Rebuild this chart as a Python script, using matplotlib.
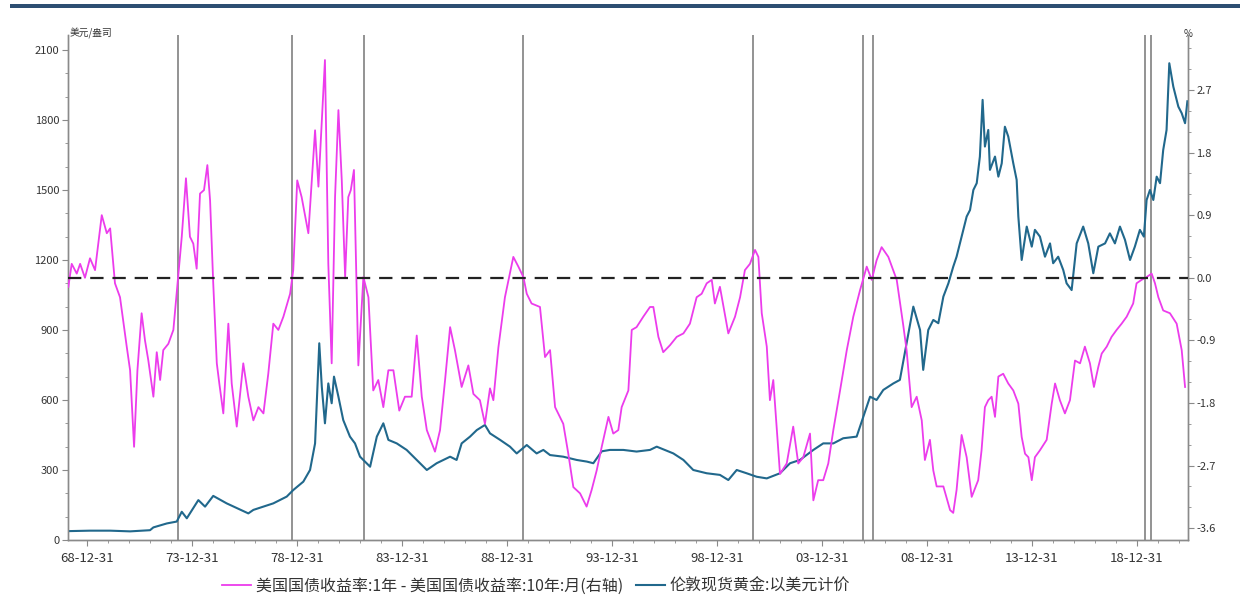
import matplotlib
matplotlib.use('Agg')
import matplotlib.pyplot as plt
import matplotlib.dates as mdates
from matplotlib.lines import Line2D
from matplotlib.patches import Rectangle
from matplotlib.ticker import MultipleLocator, FixedLocator, FormatStrFormatter
from datetime import datetime, timedelta

plt.rcParams['font.family'] = ['Noto Sans CJK SC', 'DejaVu Sans']
plt.rcParams['axes.unicode_minus'] = False

# ---------------- data (decimal years) ----------------
GOLD_T = [1968.10, 1969.14, 1970.10, 1971.05, 1972.00, 1972.16, 1972.80, 1973.27, 1973.51, 1973.75,
          1974.30, 1974.62, 1975.01, 1975.65, 1976.68, 1976.92, 1977.87, 1978.51, 1978.82, 1979.30,
          1979.62, 1979.86, 1980.06, 1980.18, 1980.33, 1980.49, 1980.65, 1980.76, 1980.97, 1981.20,
          1981.52, 1981.76, 1982.00, 1982.48, 1982.80, 1983.11, 1983.35, 1983.75, 1984.22, 1984.70,
          1985.18, 1985.65, 1986.29, 1986.60, 1986.84, 1987.24, 1987.56, 1987.95, 1988.19, 1988.67,
          1989.14, 1989.46, 1989.94, 1990.41, 1990.73, 1991.05, 1991.68, 1992.32, 1992.80, 1993.11,
          1993.51, 1993.90, 1994.54, 1995.17, 1995.81, 1996.13, 1996.92, 1997.40, 1997.87, 1998.51,
          1999.14, 1999.54, 1999.94, 2000.41, 2000.89, 2001.37, 2002.00, 2002.48, 2002.95, 2003.59,
          2004.06, 2004.54, 2005.01, 2005.65, 2005.97, 2006.29, 2006.60, 2006.92, 2007.40, 2007.71,
          2008.03, 2008.35, 2008.67, 2008.82, 2009.06, 2009.30, 2009.54, 2009.78, 2010.02, 2010.25,
          2010.41, 2010.57, 2010.89, 2011.05, 2011.21, 2011.37, 2011.52, 2011.65, 2011.76, 2011.92,
          2012.00, 2012.24, 2012.40, 2012.56, 2012.71, 2012.87, 2013.11, 2013.27, 2013.35, 2013.51,
          2013.75, 2013.99, 2014.14, 2014.38, 2014.62, 2014.86, 2015.01, 2015.25, 2015.49, 2015.65,
          2015.89, 2016.13, 2016.44, 2016.68, 2016.92, 2017.16, 2017.48, 2017.71, 2017.95, 2018.19,
          2018.43, 2018.67, 2018.90, 2019.14, 2019.33, 2019.46, 2019.62, 2019.78, 2019.94, 2020.10,
          2020.25, 2020.41, 2020.54, 2020.73, 2020.97, 2021.13, 2021.29, 2021.40]
GOLD_V = [38, 40, 40, 37, 42, 54, 71, 79, 121, 93,
          171, 143, 189, 157, 114, 129, 157, 186, 214, 250,
          300, 414, 843, 657, 500, 671, 586, 700, 614, 514,
          443, 414, 357, 314, 443, 500, 429, 414, 386, 343,
          300, 329, 357, 343, 414, 443, 471, 493, 457, 429,
          400, 371, 407, 371, 386, 364, 357, 343, 336, 329,
          380, 386, 386, 379, 386, 400, 371, 343, 300, 286,
          279, 257, 300, 286, 271, 264, 286, 329, 343, 386,
          414, 414, 436, 443, 529, 614, 600, 643, 671, 686,
          843, 1000, 900, 729, 900, 943, 929, 1043, 1100, 1171,
          1214, 1271, 1386, 1414, 1500, 1529, 1643, 1886, 1686, 1757,
          1586, 1643, 1557, 1614, 1771, 1729, 1614, 1543, 1386, 1200,
          1343, 1257, 1329, 1300, 1214, 1271, 1186, 1214, 1157, 1100,
          1071, 1271, 1343, 1271, 1143, 1257, 1271, 1314, 1271, 1343,
          1286, 1200, 1257, 1329, 1300, 1457, 1500, 1457, 1557, 1529,
          1671, 1757, 2043, 1943, 1857, 1829, 1786, 1880]

SPREAD_T = [1968.11, 1968.27, 1968.51, 1968.67, 1968.90, 1969.14, 1969.38, 1969.70, 1969.94, 1970.10,
            1970.33, 1970.57, 1970.89, 1971.05, 1971.24, 1971.40, 1971.60, 1971.76, 1971.92, 1972.16,
            1972.32, 1972.48, 1972.63, 1972.87, 1973.11, 1973.35, 1973.51, 1973.71, 1973.90, 1974.06,
            1974.22, 1974.38, 1974.57, 1974.73, 1974.86, 1975.01, 1975.18, 1975.30, 1975.49, 1975.73,
            1975.89, 1976.13, 1976.44, 1976.68, 1976.92, 1977.16, 1977.40, 1977.63, 1977.87, 1978.11,
            1978.35, 1978.67, 1978.82, 1979.01, 1979.22, 1979.54, 1979.86, 1980.02, 1980.33, 1980.49,
            1980.65, 1980.81, 1980.97, 1981.13, 1981.29, 1981.44, 1981.56, 1981.71, 1981.92, 1982.16,
            1982.40, 1982.48, 1982.63, 1982.87, 1983.11, 1983.35, 1983.59, 1983.87, 1984.14, 1984.46,
            1984.70, 1984.94, 1985.18, 1985.57, 1985.81, 1986.05, 1986.29, 1986.52, 1986.84, 1987.16,
            1987.40, 1987.71, 1987.95, 1988.19, 1988.35, 1988.59, 1988.90, 1989.30, 1989.54, 1989.78,
            1989.94, 1990.17, 1990.57, 1990.81, 1991.05, 1991.29, 1991.68, 1991.92, 1992.16, 1992.48,
            1992.79, 1993.03, 1993.27, 1993.51, 1993.83, 1994.06, 1994.30, 1994.46, 1994.78, 1994.94,
            1995.17, 1995.49, 1995.81, 1995.97, 1996.21, 1996.44, 1996.76, 1997.08, 1997.40, 1997.71,
            1998.03, 1998.27, 1998.51, 1998.75, 1998.90, 1999.14, 1999.54, 1999.86, 2000.10, 2000.33,
            2000.57, 2000.81, 2000.97, 2001.13, 2001.37, 2001.52, 2001.68, 2002.00, 2002.32, 2002.63,
            2002.87, 2003.11, 2003.43, 2003.59, 2003.82, 2004.06, 2004.30, 2004.54, 2004.86, 2005.18,
            2005.49, 2005.81, 2006.13, 2006.37, 2006.60, 2006.84, 2007.16, 2007.56, 2007.87, 2008.03,
            2008.27, 2008.51, 2008.75, 2008.90, 2009.14, 2009.30, 2009.46, 2009.78, 2010.10, 2010.25,
            2010.41, 2010.65, 2010.89, 2011.13, 2011.44, 2011.60, 2011.76, 2011.92, 2012.08, 2012.24,
            2012.40, 2012.63, 2012.87, 2013.11, 2013.35, 2013.51, 2013.67, 2013.83, 2013.99, 2014.14,
            2014.38, 2014.70, 2014.94, 2015.10, 2015.33, 2015.57, 2015.81, 2016.05, 2016.29, 2016.52,
            2016.76, 2016.95, 2017.16, 2017.32, 2017.56, 2017.79, 2018.03, 2018.27, 2018.51, 2018.82,
            2018.98, 2019.22, 2019.46, 2019.70, 2019.86, 2020.02, 2020.25, 2020.57, 2020.89, 2021.13,
            2021.29]
SPREAD_V = [-0.13, 0.20, 0.06, 0.20, 0.00, 0.28, 0.11, 0.90, 0.64, 0.71,
            -0.08, -0.28, -0.99, -1.33, -2.43, -1.33, -0.51, -0.90, -1.19, -1.71,
            -1.07, -1.47, -1.04, -0.95, -0.75, 0.06, 0.59, 1.43, 0.59, 0.49,
            0.13, 1.21, 1.26, 1.62, 1.11, -0.08, -1.23, -1.52, -1.95, -0.66,
            -1.52, -2.14, -1.23, -1.71, -2.05, -1.86, -1.95, -1.38, -0.66, -0.75,
            -0.56, -0.23, 0.11, 1.40, 1.16, 0.64, 2.12, 1.31, 3.13, 0.20,
            -1.23, 1.16, 2.41, 1.40, 0.01, 1.16, 1.26, 1.55, -1.26, 0.01,
            -0.28, -0.75, -1.62, -1.47, -1.86, -1.33, -1.33, -1.91, -1.71, -1.71,
            -0.83, -1.71, -2.19, -2.50, -2.19, -1.47, -0.71, -1.04, -1.57, -1.26,
            -1.67, -1.76, -2.10, -1.59, -1.76, -1.00, -0.28, 0.30, 0.16, 0.01,
            -0.23, -0.37, -0.42, -1.14, -1.04, -1.86, -2.10, -2.53, -3.01, -3.10,
            -3.29, -3.05, -2.77, -2.43, -2.00, -2.24, -2.19, -1.86, -1.62, -0.75,
            -0.71, -0.56, -0.42, -0.42, -0.85, -1.07, -0.97, -0.85, -0.80, -0.66,
            -0.28, -0.23, -0.08, -0.03, -0.37, -0.13, -0.80, -0.56, -0.28, 0.11,
            0.20, 0.40, 0.30, -0.51, -0.99, -1.76, -1.47, -2.82, -2.67, -2.14,
            -2.67, -2.58, -2.24, -3.20, -2.91, -2.91, -2.67, -2.19, -1.62, -1.04,
            -0.56, -0.18, 0.16, -0.03, 0.25, 0.44, 0.30, -0.03, -0.68, -1.04,
            -1.86, -1.71, -2.05, -2.62, -2.33, -2.77, -3.00, -3.00, -3.34, -3.38,
            -3.05, -2.26, -2.58, -3.15, -2.91, -2.48, -1.86, -1.76, -1.71, -2.00,
            -1.42, -1.38, -1.52, -1.62, -1.81, -2.29, -2.53, -2.58, -2.91, -2.58,
            -2.48, -2.33, -1.81, -1.52, -1.76, -1.95, -1.76, -1.19, -1.23, -0.99,
            -1.23, -1.57, -1.28, -1.09, -0.99, -0.85, -0.75, -0.66, -0.56, -0.37,
            -0.08, -0.03, 0.01, 0.06, -0.08, -0.28, -0.47, -0.51, -0.66, -1.04,
            -1.57]

MARK_T = [1973.35, 1978.78, 1982.19, 1989.76, 2000.73, 2005.97, 2006.44, 2019.38, 2019.67]

TICK_YEARS = [1968, 1973, 1978, 1983, 1988, 1993, 1998, 2003, 2008, 2013, 2018]
LEFT_TICKS = [0, 300, 600, 900, 1200, 1500, 1800, 2100]
RIGHT_TICKS = [-3.6, -2.7, -1.8, -0.9, 0.0, 0.9, 1.8, 2.7]

LABEL_SPREAD = '美国国债收益率:1年 - 美国国债收益率:10年:月(右轴)'
LABEL_GOLD = '伦敦现货黄金:以美元计价'
UNIT_LEFT = '美元/盎司'
UNIT_RIGHT = '%'

PINK = '#ec3cec'
BLUE = '#21688c'
GRID_GRAY = '#8a8a8a'
TEXT = '#333333'


def to_dt(t):
    y = int(t)
    start = datetime(y, 1, 1)
    days = (datetime(y + 1, 1, 1) - start).days
    return start + timedelta(days=(t - y) * days)


W, H = 1240, 607
fig = plt.figure(figsize=(W / 100, H / 100), dpi=100)
L, R, B, T = 67.5, 1188, 540, 35
ax = fig.add_axes([L / W, 1 - B / H, (R - L) / W, (B - T) / H])
ax2 = ax.twinx()

gold_x = [to_dt(t) for t in GOLD_T]
spr_x = [to_dt(t) for t in SPREAD_T]

ax.plot(gold_x, GOLD_V, color=BLUE, lw=1.5, zorder=3)
ax2.plot(spr_x, SPREAD_V, color=PINK, lw=1.3, zorder=3)
ax2.axhline(0, color='#222222', lw=1.6, ls=(0, (6, 4)), zorder=4)
for t in MARK_T:
    ax.axvline(to_dt(t), color=GRID_GRAY, lw=1.3, zorder=2)

ax.set_xlim(to_dt(1968.07), to_dt(2021.43))
ax.set_ylim(0, 2164)
ax2.set_ylim(-3.77, 3.49)

ax.xaxis.set_major_locator(FixedLocator(mdates.date2num([datetime(y, 12, 31) for y in TICK_YEARS])))
ax.xaxis.set_major_formatter(mdates.DateFormatter('%y-%m-%d'))
ax.xaxis.set_minor_locator(FixedLocator(mdates.date2num([datetime(y, 12, 31) for y in range(1968, 2021)])))
ax.yaxis.set_major_locator(FixedLocator(LEFT_TICKS))
ax.yaxis.set_minor_locator(MultipleLocator(100))
ax2.yaxis.set_major_locator(FixedLocator(RIGHT_TICKS))
ax2.yaxis.set_major_formatter(FormatStrFormatter('%.1f'))
ax2.yaxis.set_minor_locator(MultipleLocator(0.3))

for a in (ax, ax2):
    a.spines['top'].set_visible(False)
    for s in ('left', 'right', 'bottom'):
        a.spines[s].set_color(GRID_GRAY)
        a.spines[s].set_linewidth(1.0)
    a.tick_params(which='major', length=4, width=0.8, color=GRID_GRAY, labelsize=8, labelcolor=TEXT, pad=2)
    a.tick_params(which='minor', length=2, width=0.6, color=GRID_GRAY)
ax.tick_params(axis='x', which='major', labelsize=9.5, pad=5)
ax.patch.set_visible(False)

fig.text(70 / W, 1 - 33 / H, UNIT_LEFT, fontsize=7, color=TEXT, va='center', ha='left')
fig.text(1184 / W, 1 - 34 / H, UNIT_RIGHT, fontsize=7, color=TEXT, va='center', ha='left')

fig.add_artist(Rectangle((10 / W, 1 - 8 / H), (W - 10) / W, 4 / H,
                         transform=fig.transFigure, color='#2d4e72', lw=0))

handles = [Line2D([], [], color=PINK, lw=1.3), Line2D([], [], color=BLUE, lw=1.5)]
fig.legend(handles, [LABEL_SPREAD, LABEL_GOLD], loc='center',
           bbox_to_anchor=(536 / W, 1 - 586 / H), ncol=2, frameon=False,
           fontsize=11.5, handlelength=1.8, handletextpad=0.3, columnspacing=0.8,
           labelcolor=TEXT)

fig.savefig('out.png', dpi=100)
